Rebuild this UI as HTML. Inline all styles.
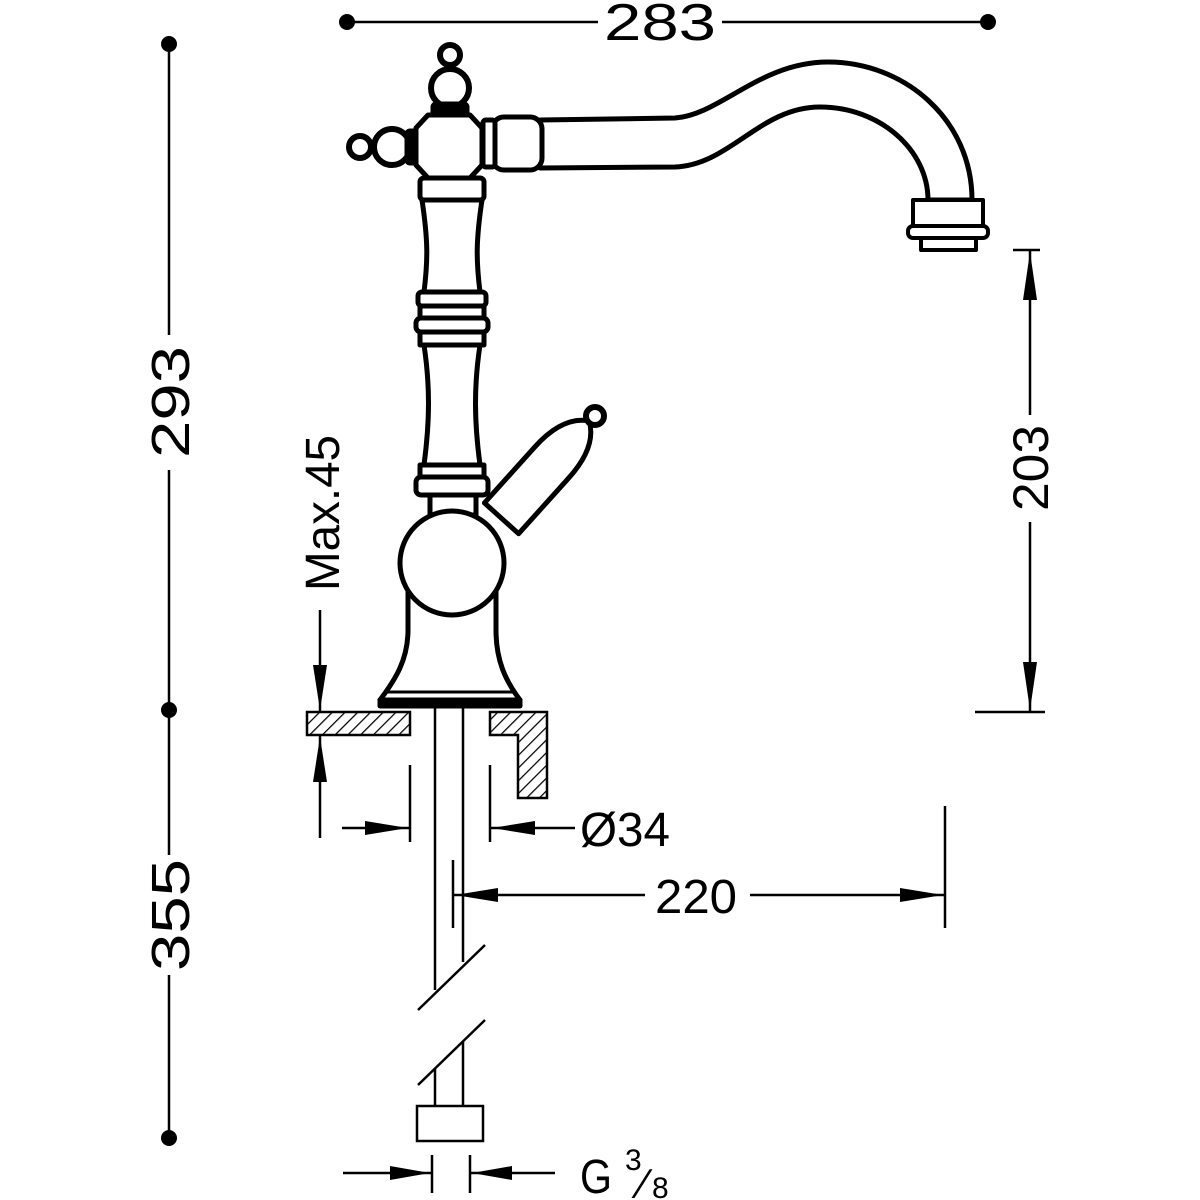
<!DOCTYPE html>
<html><head><meta charset="utf-8"><style>
html,body{margin:0;padding:0;background:#fff;}
svg{display:block;}
text{font-family:"Liberation Sans",sans-serif;fill:#000;}
</style></head><body>
<svg width="1200" height="1200" viewBox="0 0 1200 1200" xmlns="http://www.w3.org/2000/svg">
<defs>
<pattern id="h" width="9" height="9" patternUnits="userSpaceOnUse" patternTransform="rotate(45)">
<rect width="9" height="9" fill="#fff"/><line x1="0" y1="0" x2="0" y2="9" stroke="#000" stroke-width="2.5"/>
</pattern>
</defs>
<g stroke="#000" fill="none" stroke-width="2.5">
<line x1="347" y1="22" x2="598" y2="22"/>
<line x1="722" y1="22" x2="988" y2="22"/>
<line x1="169" y1="44" x2="169" y2="335"/>
<line x1="169" y1="470" x2="169" y2="855"/>
<line x1="169" y1="975" x2="169" y2="1138"/>
<line x1="1013" y1="250" x2="1040" y2="250"/>
<line x1="1030" y1="250" x2="1030" y2="415"/>
<line x1="1030" y1="522" x2="1030" y2="712"/>
<line x1="975" y1="712" x2="1045" y2="712"/>
<line x1="320" y1="610" x2="320" y2="712"/>
<line x1="320" y1="735" x2="320" y2="838"/>
<line x1="410" y1="765" x2="410" y2="842"/>
<line x1="490" y1="765" x2="490" y2="842"/>
<line x1="342" y1="828" x2="410" y2="828"/>
<line x1="490" y1="828" x2="575" y2="828"/>
<line x1="453" y1="860" x2="453" y2="928"/>
<line x1="945" y1="806" x2="945" y2="928"/>
<line x1="453" y1="895" x2="645" y2="895"/>
<line x1="750" y1="895" x2="945" y2="895"/>
<line x1="432" y1="1155" x2="432" y2="1193"/>
<line x1="470" y1="1155" x2="470" y2="1193"/>
<line x1="343" y1="1173" x2="432" y2="1173"/>
<line x1="470" y1="1173" x2="555" y2="1173"/>
<line x1="435" y1="705" x2="435" y2="990"/>
<line x1="463" y1="705" x2="463" y2="962"/>
<line x1="418" y1="1010" x2="485" y2="945"/>
<line x1="418" y1="1085" x2="485" y2="1020"/>
<line x1="435" y1="1069" x2="435" y2="1106"/>
<line x1="463" y1="1042" x2="463" y2="1106"/>
<rect x="417" y="1106" width="66" height="35"/>
</g>
<g fill="#000">
<circle cx="347" cy="22" r="8"/><circle cx="988" cy="22" r="8"/>
<circle cx="169" cy="44" r="8"/><circle cx="169" cy="710" r="8"/><circle cx="169" cy="1138" r="8"/>
<polygon points="1030,252 1023,300 1037,300"/>
<polygon points="1030,710 1023,662 1037,662"/>
<polygon points="320,710 313,665 327,665"/>
<polygon points="320,737 313,782 327,782"/>
<polygon points="408,828 365,821 365,835"/>
<polygon points="492,828 535,821 535,835"/>
<polygon points="455,895 498,888 498,902"/>
<polygon points="943,895 900,888 900,902"/>
<polygon points="430,1173 390,1166 390,1180"/>
<polygon points="472,1173 512,1166 512,1180"/>
</g>
<g stroke="#000" stroke-width="2.5" fill="url(#h)">
<rect x="307" y="712" width="103" height="23"/>
<path d="M490,712 H547 V798 H518 V735 H490 Z"/>
</g>
<g stroke="#000" stroke-width="5" fill="#fff" stroke-linejoin="round">
<path d="M540,120 L675,118 C720,115 760,62 828,62 C905,62 972,120 972,200 L928,200 C928,150 880,107 820,107 C760,107 730,165 675,167 L540,168 Z"/>
<rect x="913" y="200" width="70" height="26" stroke-width="4"/>
<rect x="908" y="226" width="80" height="12" rx="5" stroke-width="4"/>
<rect x="921" y="238" width="55" height="12" stroke-width="4"/>
<rect x="492" y="117" width="50" height="53" rx="12"/>
<rect x="483" y="120" width="12" height="47" rx="3"/>
<path d="M422,200 C428,240 428,260 424,292 L480,292 C476,260 476,240 482,200 Z"/>
<path d="M424,345 C430,385 430,420 424,465 L480,465 C474,420 474,385 480,345 Z"/>
<rect x="420" y="178" width="64" height="22" rx="4"/>
<rect x="418" y="292" width="68" height="14" rx="4"/>
<rect x="420" y="306" width="64" height="12"/>
<rect x="416" y="318" width="72" height="14" rx="5"/>
<rect x="420" y="332" width="64" height="13"/>
<rect x="420" y="465" width="64" height="12"/>
<rect x="416" y="477" width="72" height="18" rx="5"/>
<rect x="430" y="495" width="46" height="20"/>
<path d="M408,590 L408,630 C408,660 395,680 380,700 L520,700 C505,680 496,660 496,630 L496,590 Z"/>
<line x1="385" y1="692" x2="515" y2="692" stroke-width="3"/>
<rect x="380" y="700" width="140" height="6" fill="#000"/>
<g transform="rotate(42 545 470)">
<path d="M522,535 L522,460 C522,428 532,412 545,404 C558,412 568,428 568,460 L568,535 Z"/>
</g>
<circle cx="595" cy="416" r="9" stroke-width="6"/>
<circle cx="452" cy="563" r="52"/>
<circle cx="450" cy="55" r="10" stroke-width="6"/>
<circle cx="450" cy="88" r="19" stroke-width="6"/>
<rect x="433" y="104" width="34" height="12" rx="3" fill="#000"/>
<circle cx="360" cy="147" r="11" stroke-width="6"/>
<circle cx="392" cy="147" r="18" stroke-width="6"/>
<rect x="407" y="131" width="12" height="32" rx="3" fill="#000"/>
<polygon points="428,115 470,115 482,128 482,165 470,178 428,178 416,165 416,128"/>
</g>
<text x="660" y="40" font-size="52" text-anchor="middle" textLength="112" lengthAdjust="spacingAndGlyphs">283</text>
<text transform="translate(189,402) rotate(-90)" font-size="54" text-anchor="middle" textLength="112" lengthAdjust="spacingAndGlyphs">293</text>
<text transform="translate(189,915) rotate(-90)" font-size="54" text-anchor="middle" textLength="112" lengthAdjust="spacingAndGlyphs">355</text>
<text transform="translate(1048,468) rotate(-90)" font-size="50" text-anchor="middle" textLength="86" lengthAdjust="spacingAndGlyphs">203</text>
<text transform="translate(339,513) rotate(-90)" font-size="48" text-anchor="middle" textLength="156" lengthAdjust="spacingAndGlyphs">Max.45</text>
<text x="580" y="846" font-size="48" textLength="90" lengthAdjust="spacingAndGlyphs">Ø34</text>
<text x="655" y="913" font-size="48" textLength="82" lengthAdjust="spacingAndGlyphs">220</text>
<text x="580" y="1193" font-size="48" textLength="32" lengthAdjust="spacingAndGlyphs">G</text>
<text x="625" y="1170" font-size="30">3</text>
<text x="640" y="1198" font-size="42">⁄</text>
<text x="652" y="1198" font-size="30">8</text>
</svg>
</body></html>
